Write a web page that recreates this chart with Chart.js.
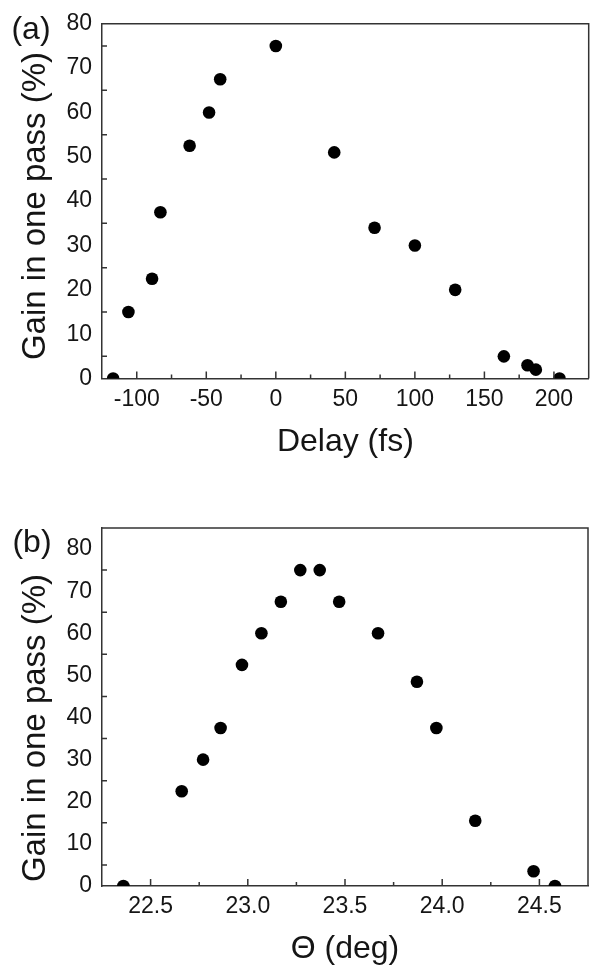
<!DOCTYPE html>
<html>
<head>
<meta charset="utf-8">
<script src="https://cdn.jsdelivr.net/npm/chart.js@4.4.1/dist/chart.umd.min.js"></script>
<style>
    html, body { margin: 0; padding: 0; background: #fff; }
    .panel { position: absolute; left: 0; width: 595px; height: 483px; }
</style>
</head>
<body>
<div class="panel" style="top:0"><canvas id="chartA" width="595" height="483"></canvas></div>
<div class="panel" style="top:483px"><canvas id="chartB" width="595" height="483"></canvas></div>
<script>
// panel (a): gain vs delay
const delayFs = [-117, -106, -89, -83, -62, -48, -40, 0, 42, 71, 100, 129, 164, 181, 187, 204];
const gainDelay = [0, 15, 22.5, 37.5, 52.5, 60, 67.5, 75, 51, 34, 30, 20, 5, 3, 2, 0];
// panel (b): gain vs angle
const thetaDeg = [22.36, 22.66, 22.77, 22.86, 22.97, 23.07, 23.17, 23.27, 23.37, 23.47, 23.67, 23.87, 23.97, 24.17, 24.47, 24.58];
const gainTheta = [0, 22.5, 30, 37.5, 52.5, 60, 67.5, 75, 75, 67.5, 60, 48.5, 37.5, 15.5, 3.5, 0];

const delayTicks = [-100, -50, 0, 50, 100, 150, 200];
const thetaTicks = [22.5, 23.0, 23.5, 24.0, 24.5];
const gainTicks = [0, 10, 20, 30, 40, 50, 60, 70, 80];

(function () {
    "use strict";
    const FONT = "'Liberation Sans', Arial, Helvetica, sans-serif";
    const INK = "#151515";
    const LINE = "#333";
    Chart.defaults.font.family = FONT;
    Chart.defaults.color = INK;

    // inward tick marks, top/right frame, panel letter and y title
    const frame = {
        id: "frame",
        afterDatasetsDraw(chart, args, o) {
            const { ctx, chartArea: a, scales: { x, y } } = chart;
            ctx.save();
            ctx.strokeStyle = LINE;
            ctx.lineWidth = 1.5;
            ctx.beginPath();
            ctx.moveTo(a.left, a.top);
            ctx.lineTo(a.right, a.top);
            ctx.lineTo(a.right, a.bottom);
            x.ticks.forEach(t => {
                let p = x.getPixelForValue(t.value);
                ctx.moveTo(p, a.bottom);
                ctx.lineTo(p, a.bottom - 7);
            });
            let sx = x.ticks[1].value - x.ticks[0].value;
            for (let v = x.ticks[0].value - sx / 2; v < x.max; v += sx) {
                if (v <= x.min) continue;
                let p = x.getPixelForValue(v);
                ctx.moveTo(p, a.bottom);
                ctx.lineTo(p, a.bottom - 4);
            }
            let sy = y.ticks[1].value - y.ticks[0].value;
            for (let v = y.ticks[0].value + sy / 2; v < y.max; v += sy) {
                let p = y.getPixelForValue(v);
                ctx.moveTo(a.left, p);
                ctx.lineTo(a.left + 5, p);
            }
            ctx.stroke();

            ctx.fillStyle = INK;
            ctx.textAlign = "center";
            ctx.textBaseline = "middle";
            ctx.font = "32px " + FONT;
            ctx.fillText(o.letter, o.letterX, o.letterY);
            ctx.translate(o.titleX, o.titleY);
            ctx.rotate(-Math.PI / 2);
            ctx.textBaseline = "alphabetic";
            ctx.font = "33px " + FONT;
            ctx.fillText(o.title, 0, 0);
            ctx.restore();
        }
    };

    function makeChart(id, xs, ys, cfg) {
        let r = document.getElementById(id).getContext("2d");
        return new Chart(r, {
            type: "scatter",
            data: {
                datasets: [
                    {
                        data: xs.map((v, i) => ({ x: v, y: ys[i] })),
                        pointRadius: 6.3,
                        pointHoverRadius: 6.3,
                        pointBorderWidth: 0,
                        pointBackgroundColor: "#000",
                        backgroundColor: "#000"
                    }
                ]
            },
            plugins: [frame],
            options: {
                responsive: false,
                animation: false,
                events: [],
                layout: { padding: cfg.padding },
                plugins: {
                    legend: { display: false },
                    tooltip: { enabled: false },
                    frame: cfg.frame
                },
                scales: {
                    x: {
                        type: "linear",
                        min: cfg.xMin,
                        max: cfg.xMax,
                        afterBuildTicks: s => { s.ticks = cfg.xTicks.map(v => ({ value: v })); },
                        afterFit: s => { s.height = cfg.xHeight; },
                        ticks: {
                            font: { size: 23 },
                            color: INK,
                            padding: 7,
                            maxRotation: 0,
                            autoSkip: false,
                            callback: cfg.xFormat
                        },
                        grid: { display: false, drawTicks: false },
                        border: { display: true, color: LINE, width: 1.5 },
                        title: {
                            display: true,
                            text: cfg.xTitle,
                            font: { size: 32 },
                            color: INK,
                            padding: { top: 0, bottom: cfg.xTitlePad }
                        }
                    },
                    y: {
                        type: "linear",
                        min: 0,
                        max: cfg.yMax,
                        afterBuildTicks: s => { s.ticks = gainTicks.map(v => ({ value: v })); },
                        afterFit: s => { s.width = 102; },
                        ticks: {
                            font: { size: 23 },
                            color: INK,
                            padding: 10,
                            autoSkip: false
                        },
                        grid: { display: false, drawTicks: false },
                        border: { display: true, color: LINE, width: 1.5 }
                    }
                }
            }
        });
    }

    makeChart("chartA", delayFs, gainDelay, {
        padding: { top: 18.5, right: 3, left: 0, bottom: 0 },
        xMin: -125,
        xMax: 225,
        yMax: 80,
        xTicks: delayTicks,
        xHeight: 104.5,
        xTitle: "Delay (fs)",
        xTitlePad: 22,
        xFormat: v => String(v),
        frame: { letter: "(a)", letterX: 31, letterY: 30, title: "Gain in one pass (%)", titleX: 45, titleY: 206 }
    });

    makeChart("chartB", thetaDeg, gainTheta, {
        padding: { top: 45, right: 7, left: 0, bottom: 0 },
        xMin: 22.25,
        xMax: 24.75,
        yMax: 85,
        xTicks: thetaTicks,
        xHeight: 80,
        xTitle: "\u0398 (deg)",
        xTitlePad: -2,
        xFormat: v => v.toFixed(1),
        frame: { letter: "(b)", letterX: 32, letterY: 60, title: "Gain in one pass (%)", titleX: 45, titleY: 245 }
    });
})();
</script>
</body>
</html>
